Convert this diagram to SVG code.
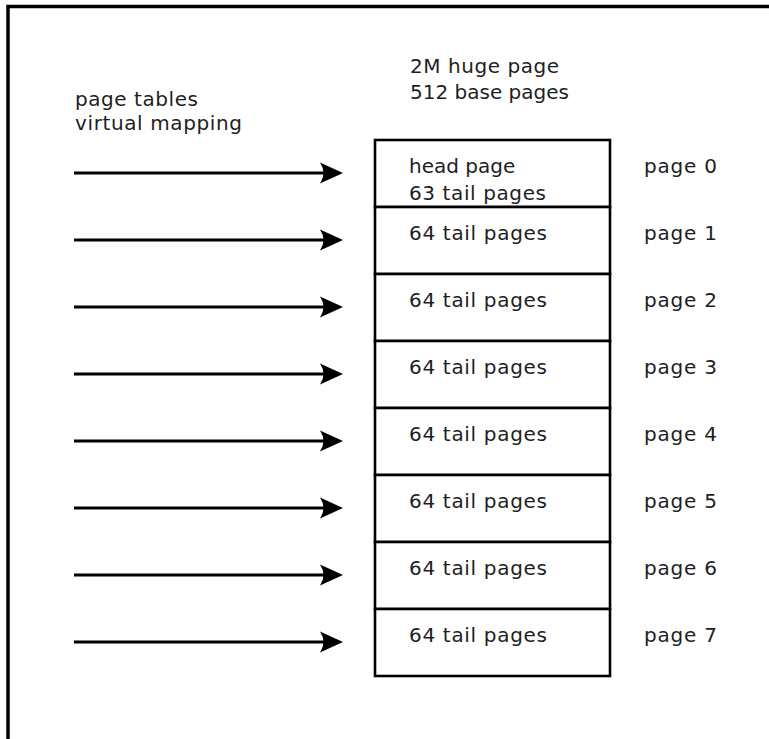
<svg xmlns="http://www.w3.org/2000/svg" width="769" height="739" viewBox="0 0 769 739">
  <style>
    text { font-family: "DejaVu Sans", "Liberation Sans", sans-serif; font-size: 20px; fill: #1e1e1e; }
    .frame { fill: none; stroke: #000; stroke-width: 3.5; }
    .row { fill: #fff; stroke: #000; stroke-width: 2.6; }
    .arrow { fill: none; stroke: #000; stroke-width: 3; }
    .head { fill: #000; stroke: none; }
  </style>
  <defs>
    <path id="tip" class="head" d="M0,0 L-23,-10.5 Q-16,0 -23,10.5 Z"/>
  </defs>
  <rect width="769" height="739" fill="#fff"/>

  <!-- outer frame: only left and top edges show -->
  <g id="frame">
    <polyline class="frame" points="8,739 8,6.5 769,6.5"/>
  </g>

  <g id="label-mapping">
    <text x="75" y="106" textLength="123" lengthAdjust="spacing">page tables</text>
    <text x="75" y="130" textLength="167" lengthAdjust="spacing">virtual mapping</text>
  </g>

  <g id="label-hugepage">
    <text x="410" y="73" textLength="149" lengthAdjust="spacing">2M huge page</text>
    <text x="410" y="99">512 base pages</text>
  </g>

  <!-- the huge page, split into 8 runs of 64 base pages -->
  <g id="page0">
    <rect class="row" x="375" y="140" width="235" height="67"/>
    <text x="409" y="173">head page</text>
    <text x="409" y="200" textLength="137" lengthAdjust="spacing">63 tail pages</text>
    <text x="644" y="173" textLength="73" lengthAdjust="spacing">page 0</text>
  </g>
  <g id="page1">
    <rect class="row" x="375" y="207" width="235" height="67"/>
    <text x="409" y="240" textLength="138" lengthAdjust="spacing">64 tail pages</text>
    <text x="644" y="240" textLength="73" lengthAdjust="spacing">page 1</text>
  </g>
  <g id="page2">
    <rect class="row" x="375" y="274" width="235" height="67"/>
    <text x="409" y="307" textLength="138" lengthAdjust="spacing">64 tail pages</text>
    <text x="644" y="307" textLength="73" lengthAdjust="spacing">page 2</text>
  </g>
  <g id="page3">
    <rect class="row" x="375" y="341" width="235" height="67"/>
    <text x="409" y="374" textLength="138" lengthAdjust="spacing">64 tail pages</text>
    <text x="644" y="374" textLength="73" lengthAdjust="spacing">page 3</text>
  </g>
  <g id="page4">
    <rect class="row" x="375" y="408" width="235" height="67"/>
    <text x="409" y="441" textLength="138" lengthAdjust="spacing">64 tail pages</text>
    <text x="644" y="441" textLength="73" lengthAdjust="spacing">page 4</text>
  </g>
  <g id="page5">
    <rect class="row" x="375" y="475" width="235" height="67"/>
    <text x="409" y="508" textLength="138" lengthAdjust="spacing">64 tail pages</text>
    <text x="644" y="508" textLength="73" lengthAdjust="spacing">page 5</text>
  </g>
  <g id="page6">
    <rect class="row" x="375" y="542" width="235" height="67"/>
    <text x="409" y="575" textLength="138" lengthAdjust="spacing">64 tail pages</text>
    <text x="644" y="575" textLength="73" lengthAdjust="spacing">page 6</text>
  </g>
  <g id="page7">
    <rect class="row" x="375" y="609" width="235" height="67"/>
    <text x="409" y="642" textLength="138" lengthAdjust="spacing">64 tail pages</text>
    <text x="644" y="642" textLength="73" lengthAdjust="spacing">page 7</text>
  </g>

  <!-- page table entries pointing at each page -->
  <g id="connectors">
    <line class="arrow" x1="74" y1="173" x2="330" y2="173"/><use href="#tip" x="343" y="173"/>
    <line class="arrow" x1="74" y1="240" x2="330" y2="240"/><use href="#tip" x="343" y="240"/>
    <line class="arrow" x1="74" y1="307" x2="330" y2="307"/><use href="#tip" x="343" y="307"/>
    <line class="arrow" x1="74" y1="374" x2="330" y2="374"/><use href="#tip" x="343" y="374"/>
    <line class="arrow" x1="74" y1="441" x2="330" y2="441"/><use href="#tip" x="343" y="441"/>
    <line class="arrow" x1="74" y1="508" x2="330" y2="508"/><use href="#tip" x="343" y="508"/>
    <line class="arrow" x1="74" y1="575" x2="330" y2="575"/><use href="#tip" x="343" y="575"/>
    <line class="arrow" x1="74" y1="642" x2="330" y2="642"/><use href="#tip" x="343" y="642"/>
  </g>
</svg>
